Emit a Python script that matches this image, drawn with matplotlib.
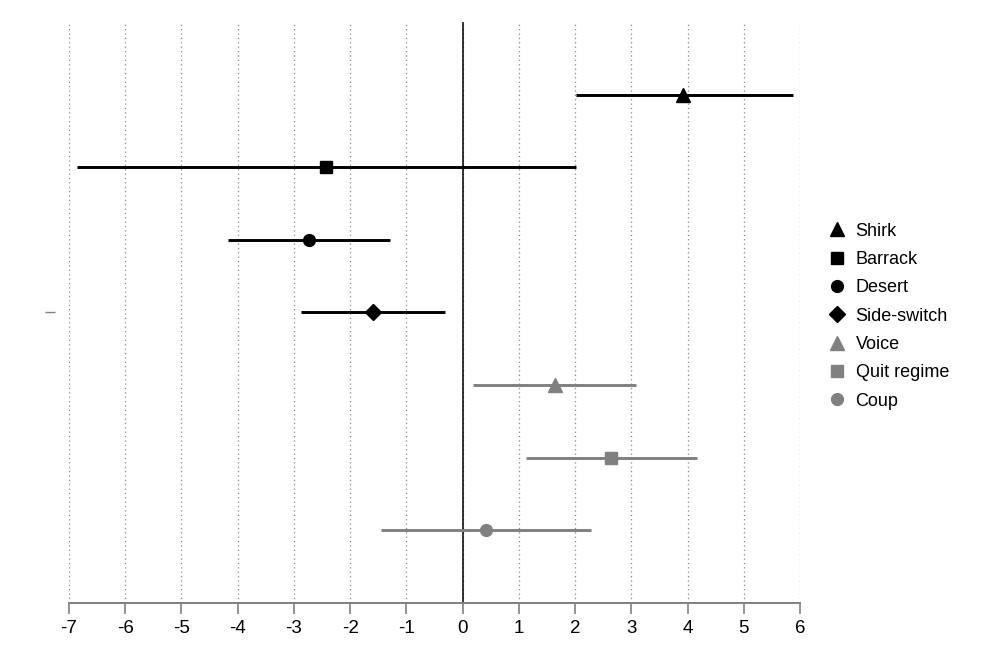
import numpy as np
import matplotlib.pyplot as plt
from matplotlib.lines import Line2D

plt.rcParams['font.family'] = ['Liberation Sans', 'DejaVu Sans']

# estimates with confidence intervals, top to bottom
labels = ['Shirk', 'Barrack', 'Desert', 'Side-switch', 'Voice', 'Quit regime', 'Coup']
est = [3.92, -2.43, -2.74, -1.60, 1.64, 2.63, 0.42]
lo = [2.02, -6.85, -4.18, -2.88, 0.19, 1.12, -1.45]
hi = [5.88, 2.02, -1.30, -0.31, 3.09, 4.17, 2.29]
markers = ['^', 's', 'o', 'D', '^', 's', 'o']
colors = ['black'] * 4 + ['#808080'] * 3
xticks = list(range(-7, 7))

fig = plt.figure(figsize=(10, 6.67), dpi=100)
ax = fig.add_axes([0.069, 0.096, 0.731, 0.871])

ypos = np.arange(len(labels), 0, -1)
sizes = [9.5, 8, 8.5, 8.5, 9.5, 8, 8.5]
for y, e, l, h, m, c, s in zip(ypos, est, lo, hi, markers, colors, sizes):
    ax.plot([l, h], [y, y], color=c, lw=2.1, solid_capstyle='butt', zorder=3)
    ax.plot(e, y, marker=m, color=c, ms=s, ls='none', zorder=4)

ax.axvline(0, color='black', lw=1.1, zorder=2)
for t in xticks:
    ax.axvline(t, color='#888888', lw=0.9, ls=(0, (1, 2.5)), zorder=1)

ax.set_xlim(-7, 6)
ax.set_ylim(0, 8)
ax.set_xticks(xticks)
ax.set_xticklabels([str(t) for t in xticks], fontsize=13.5)
ax.tick_params(axis='x', length=8, width=1.2, color='#808080', pad=4)

ax.set_yticks([4])
ax.set_yticklabels([''])
ax.tick_params(axis='y', length=7, width=1.0, color='#808080')

for side in ['top', 'right', 'left']:
    ax.spines[side].set_visible(False)
ax.spines['left'].set_position(('outward', 10))
ax.spines['bottom'].set_color('#808080')
ax.spines['bottom'].set_linewidth(1.4)

handles = [Line2D([], [], marker=m, color=c, ls='none', ms=s)
           for m, c, s in zip(markers, colors, sizes)]
fig.legend(handles, labels, loc='center left', bbox_to_anchor=(0.823, 0.526),
           frameon=False, fontsize=13, handlelength=0.8, handletextpad=0.6,
           labelspacing=0.63, borderaxespad=0)

fig.savefig('out.png', dpi=100)
